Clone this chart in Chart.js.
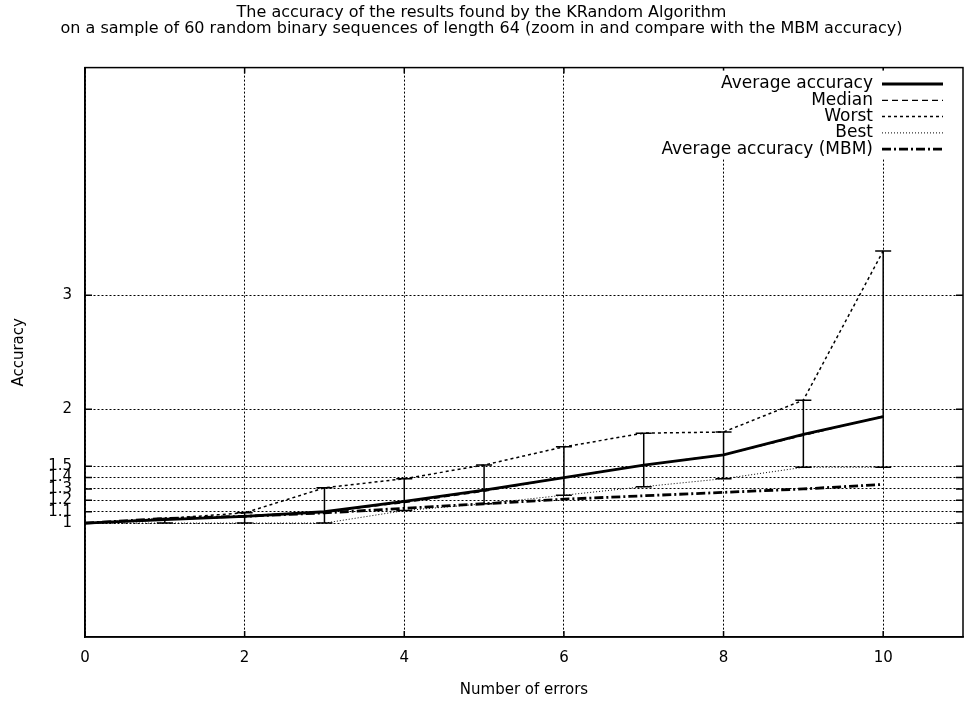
<!DOCTYPE html>
<html lang="en">
<head>
<meta charset="UTF-8">
<title>KRandom accuracy</title>
<script src="https://cdn.jsdelivr.net/npm/chart.js"></script>
<style>
  body { margin: 0; background: #fff; }
  .wrap { width: 980px; height: 702px; }
</style>
</head>
<body>
<div class="wrap"><canvas id="accuracyChart" width="980" height="702"></canvas></div>
<script>
// values
const errors = [0, 1, 2, 3, 4, 5, 6, 7, 8, 9, 10];
const avgAccuracy = [1.0, 1.03, 1.06, 1.10, 1.19, 1.29, 1.40, 1.51, 1.60, 1.78, 1.935];
const medianAccuracy = [1.0, 1.03, 1.06, 1.10, 1.18, 1.28, 1.40, 1.51, 1.60, 1.77, 1.94];
const worstAccuracy = [1.0, 1.04, 1.09, 1.31, 1.39, 1.51, 1.67, 1.79, 1.80, 2.08, 3.39];
const bestAccuracy = [1.0, 1.0, 1.0, 1.0, 1.11, 1.17, 1.245, 1.32, 1.39, 1.49, 1.49];
const mbmAccuracy = [1.0, 1.04, 1.06, 1.09, 1.13, 1.17, 1.21, 1.24, 1.27, 1.30, 1.34];
const xTicks = [0, 2, 4, 6, 8, 10];
const yTicks = [1, 1.1, 1.2, 1.3, 1.4, 1.5, 2, 3];

const FONT = '"DejaVu Sans", "Liberation Sans", Arial, sans-serif';

function pts(ys) {
    return errors.map((x, i) => ({ x: x, y: ys[i] }));
}

// vertical bars from best to worst on every point
const errorBars = {
    id: 'errorBars',
    afterDatasetsDraw(chart) {
        const { ctx, scales: { x, y } } = chart;
        ctx.save();
        ctx.strokeStyle = '#000';
        ctx.lineWidth = 1.5;
        errors.forEach((e, i) => {
            if (worstAccuracy[i] === bestAccuracy[i]) return;
            const px = x.getPixelForValue(e);
            const top = y.getPixelForValue(worstAccuracy[i]);
            const bot = y.getPixelForValue(bestAccuracy[i]);
            ctx.beginPath();
            ctx.moveTo(px, top); ctx.lineTo(px, bot);
            ctx.moveTo(px - 8, top); ctx.lineTo(px + 8, top);
            ctx.moveTo(px - 8, bot); ctx.lineTo(px + 8, bot);
            ctx.stroke();
        });
        ctx.restore();
    }
};

// gnuplot style frame with mirrored ticks, and key in the top right
const frameAndKey = {
    id: 'frameAndKey',
    afterDraw(chart) {
        const { ctx, chartArea: a, scales: { x, y } } = chart;
        ctx.save();
        ctx.strokeStyle = '#000';
        ctx.lineWidth = 1.5;
        ctx.setLineDash([]);
        ctx.strokeRect(a.left, a.top, a.right - a.left, a.bottom - a.top);
        ctx.beginPath();
        xTicks.forEach(v => {
            const px = x.getPixelForValue(v);
            ctx.moveTo(px, a.bottom); ctx.lineTo(px, a.bottom - 6);
            ctx.moveTo(px, a.top); ctx.lineTo(px, a.top + 6);
        });
        yTicks.forEach(v => {
            const py = y.getPixelForValue(v);
            ctx.moveTo(a.left, py); ctx.lineTo(a.left + 7, py);
            ctx.moveTo(a.right, py); ctx.lineTo(a.right - 7, py);
        });
        ctx.stroke();

        // key
        ctx.fillStyle = '#fff';
        ctx.fillRect(630, a.top + 3, 325, 88);
        ctx.font = '17px ' + FONT;
        ctx.textAlign = 'right';
        ctx.textBaseline = 'middle';
        chart.data.datasets.forEach((ds, i) => {
            const rowY = 84 + i * 16.3;
            ctx.fillStyle = '#000';
            ctx.fillText(ds.label, 873, rowY);
            ctx.strokeStyle = '#000';
            ctx.lineWidth = ds.borderWidth;
            ctx.setLineDash(ds.borderDash || []);
            ctx.beginPath();
            ctx.moveTo(882, rowY); ctx.lineTo(943, rowY);
            ctx.stroke();
        });
        ctx.restore();
    }
};

const lineStyle = (label, data, width, dash) => ({
    label: label,
    data: pts(data),
    borderColor: '#000',
    borderWidth: width,
    borderDash: dash,
    pointRadius: 0,
    fill: false,
    tension: 0
});

const ctx = document.getElementById('accuracyChart').getContext('2d');
const accuracyChart = new Chart(ctx, {
    type: 'line',
    data: {
        datasets: [
            lineStyle('Average accuracy', avgAccuracy, 2.8, []),
            lineStyle('Median', medianAccuracy, 1.3, [6, 4]),
            lineStyle('Worst', worstAccuracy, 1.5, [3, 3]),
            lineStyle('Best', bestAccuracy, 1, [1, 2]),
            lineStyle('Average accuracy (MBM)', mbmAccuracy, 2.8, [9, 3, 2, 3])
        ]
    },
    options: {
        responsive: false,
        animation: false,
        layout: { padding: { top: 0, right: 17, left: 0, bottom: 0 } },
        plugins: {
            legend: { display: false },
            tooltip: { enabled: false },
            title: {
                display: true,
                text: [
                    'The accuracy of the results found by the KRandom Algorithm',
                    'on a sample of 60 random binary sequences of length 64 (zoom in and compare with the MBM accuracy)'
                ],
                color: '#000',
                font: { family: FONT, size: 16, weight: 'normal', lineHeight: 1.05 },
                padding: { top: 4, bottom: 30 }
            }
        },
        scales: {
            x: {
                type: 'linear',
                min: 0,
                max: 11,
                afterBuildTicks: axis => { axis.ticks = xTicks.map(v => ({ value: v })); },
                afterFit: axis => { axis.height = 65; },
                grid: { color: '#000', lineWidth: 1, drawTicks: false },
                border: { display: true, color: '#000', width: 1.5, dash: [2, 2] },
                ticks: { color: '#000', padding: 12, font: { family: FONT, size: 15 }, callback: v => String(v) },
                title: {
                    display: true,
                    text: 'Number of errors',
                    color: '#000',
                    font: { family: FONT, size: 15 },
                    padding: { top: 0, bottom: 3 }
                }
            },
            y: {
                min: 0,
                max: 5,
                afterBuildTicks: axis => { axis.ticks = yTicks.map(v => ({ value: v })); },
                afterFit: axis => { axis.width = 85; },
                grid: { color: '#000', lineWidth: 1, drawTicks: false },
                border: { display: true, color: '#000', width: 1.5, dash: [2, 2] },
                ticks: { color: '#000', padding: 13, autoSkip: false, font: { family: FONT, size: 15 }, callback: v => String(v) },
                title: {
                    display: true,
                    text: 'Accuracy',
                    color: '#000',
                    font: { family: FONT, size: 15 },
                    padding: { top: 10, bottom: 0 }
                }
            }
        }
    },
    plugins: [errorBars, frameAndKey]
});
</script>
</body>
</html>
